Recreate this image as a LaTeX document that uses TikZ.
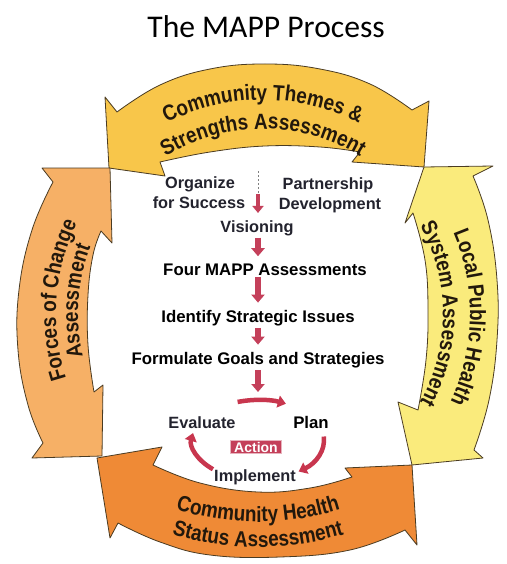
\documentclass[tikz,border=0pt]{standalone}
\usepackage{fontspec}
\setmainfont{Liberation Sans}
\newfontfamily\titlefont{Carlito}
\newfontfamily\bandfamily[FakeStretch=0.86]{Liberation Sans}
\usetikzlibrary{arrows.meta,decorations.text}
\definecolor{ctyel}{HTML}{F8C64A}
\definecolor{fcorg}{HTML}{F6B066}
\definecolor{lpyel}{HTML}{FAEB7C}
\definecolor{chorg}{HTML}{EF8A36}
\definecolor{bandline}{HTML}{4A3B22}
\definecolor{txtdark}{HTML}{22180C}
\definecolor{stepred}{HTML}{C4405A}
\definecolor{cycred}{HTML}{C8364E}
\definecolor{labdark}{HTML}{23232E}
\newcommand\bandfont{\bandfamily\bfseries\fontsize{22}{25}\selectfont}
\begin{document}
\begin{tikzpicture}[x=1pt,y=-1pt,
  bandedge/.style={draw=bandline, line width=0.8pt, line join=round},
  arctext/.style={decorate, decoration={text along path, text align=center, text color=txtdark}},
  steplab/.style={font=\bfseries\fontsize{16.8}{20}\selectfont, text=black, inner sep=1pt, anchor=base},
  sublab/.style={font=\bfseries\fontsize{16.3}{20}\selectfont, text=labdark, inner sep=1pt, anchor=base},
  steparrow/.style={stepred, line width=6pt, shorten <=1pt, shorten >=6pt, -{Triangle[width=13pt,length=8pt]}},
  cyclearrow/.style={cycred, line width=4.5pt, -{Triangle[width=12pt,length=8pt]}},
]
\useasboundingbox (0,0) rectangle (506,564);
\fill[white] (0,0) rectangle (506,564);

% title
\node[font=\titlefont\fontsize{31.6}{36}\selectfont, anchor=base, inner sep=0pt] (title) at (266,38) {The MAPP Process};

% ---- four curved arrows ----
\filldraw[fill=ctyel, bandedge] (117,112) -- (105,97) -- (109,168) -- (165,176) -- (160,162)
  -- plot[smooth, tension=0.7] coordinates {(160,162) (210,152) (265,146) (320,147) (360,152)}
  -- (352,162) -- (424,167) -- (429,101) -- (412,110)
  -- plot[smooth, tension=0.7] coordinates {(412,110) (370,84) (320,69) (265,64) (210,69) (160,85) (117,112)}
  -- cycle;

\filldraw[fill=fcorg, bandedge] (110,168) -- (42,168) -- (53,182)
  -- plot[smooth, tension=0.7] coordinates {(53,182) (32,230) (19,290) (18,350) (28,405) (43,443)}
  -- (32,458) -- (102,456) -- (103,385) -- (94,392)
  -- plot[smooth, tension=0.7] coordinates {(94,392) (88,345) (88,295) (93,255) (101,231)}
  -- (112,243) -- cycle;

\filldraw[fill=lpyel, bandedge] (424,167) -- (493,166) -- (473,176)
  -- plot[smooth, tension=0.7] coordinates {(473,176) (488,220) (497,280) (497,340) (489,400) (474,450)}
  -- (483,458) -- (412,465) -- (398,402) -- (418,410)
  -- plot[smooth, tension=0.7] coordinates {(418,410) (426,360) (428,310) (425,260) (413,213)}
  -- (405,223) -- cycle;

\filldraw[fill=chorg, bandedge] (97,458) -- (162,447) -- (153,465)
  -- plot[smooth, tension=0.7] coordinates {(153,465) (200,483) (258,492) (310,488) (352,477)}
  -- (345,468) -- (412,465) -- (417,545) -- (405,530)
  -- plot[smooth, tension=0.7] coordinates {(405,530) (350,550) (280,557) (210,555) (160,542) (118,523)}
  -- (110,538) -- cycle;

% ---- texts on the arrows ----
\coordinate (C) at (263,314);
\coordinate (CB) at (258,250);
\path[arctext, decoration={text={|\bandfont|Community Themes {\&}}}]
  (C) ++(-140:214) arc[start angle=-140, end angle=-40, radius=214];
\path[arctext, decoration={text={|\bandfont|Strengths Assessment}}]
  (C) ++(-140:185) arc[start angle=-140, end angle=-40, radius=185];
\path[arctext, decoration={text={|\bandfont|Forces of Change}}]
  (C) ++(144:207) arc[start angle=144, end angle=224, radius=207];
\path[arctext, decoration={text={|\bandfont|Assessment}}]
  (C) ++(144:185) arc[start angle=144, end angle=224, radius=185];
\path[arctext, decoration={text={|\bandfont|Local Public Health}}]
  (C) ++(-39:207) arc[start angle=-39, end angle=41, radius=207];
\path[arctext, decoration={text={|\bandfont|System Assessment}}]
  (C) ++(-40:180) arc[start angle=-40, end angle=40, radius=180];
\path[arctext, decoration={text={|\bandfont|Community Health}}]
  (CB) ++(120:272) arc[start angle=120, end angle=60, radius=272];
\path[arctext, decoration={text={|\bandfont|Status Assessment}}]
  (CB) ++(120:297) arc[start angle=120, end angle=60, radius=297];

% ---- inner steps ----
\coordinate (colx) at (258,0);
\node[sublab] (org1) at (200,188) {Organize};
\node[sublab] (org2) at (199,208) {for Success};
\node[sublab] (part1) at (328,189) {Partnership};
\node[sublab] (part2) at (330,209) {Development};
\node[sublab] (vis) at (257,232) {Visioning};
\node[steplab] (four) at (265,275) {Four MAPP Assessments};
\node[steplab] (iden) at (258,322) {Identify Strategic Issues};
\node[steplab] (form) at (258,364) {Formulate Goals and Strategies};

\coordinate (split) at (258,171);
\coordinate (splitend) at (258,193);
\draw[gray, line width=1pt, dash pattern=on 2pt off 2pt] (split) -- (splitend);
\draw[steparrow, line width=4.5pt, -{Triangle[width=11pt,length=7pt]}] (splitend) -- (vis.north -| colx);
\draw[steparrow] (vis.south -| colx) -- (four.north -| colx);
\draw[steparrow] (four.south -| colx) -- (iden.north -| colx);
\draw[steparrow] (iden.south -| colx) -- (form.north -| colx);
\coordinate (cyctop) at (258,398);
\draw[steparrow] (form.south -| colx) -- (cyctop);

% ---- action cycle ----
\coordinate (K) at (258,440);
\draw[cyclearrow] (K) ++(-108:66 and 40) arc[start angle=-108, end angle=-65, x radius=66, y radius=40];
\draw[cyclearrow] (K) ++(-5:66 and 40) arc[start angle=-5, end angle=52, x radius=66, y radius=40];
\draw[cyclearrow] (K) ++(133:66 and 40) arc[start angle=133, end angle=190, x radius=66, y radius=40];
\node[sublab] (eval) at (202,428) {Evaluate};
\node[steplab] (plan) at (311,428) {Plan};
\node[sublab] (impl) at (255,481) {Implement};
\node[fill=stepred, draw=stepred!40!white, line width=0.8pt, text=white, font=\bfseries\fontsize{14}{16}\selectfont, inner xsep=4pt, inner ysep=1.5pt] (act) at (256,447) {Action};
\end{tikzpicture}
\end{document}
